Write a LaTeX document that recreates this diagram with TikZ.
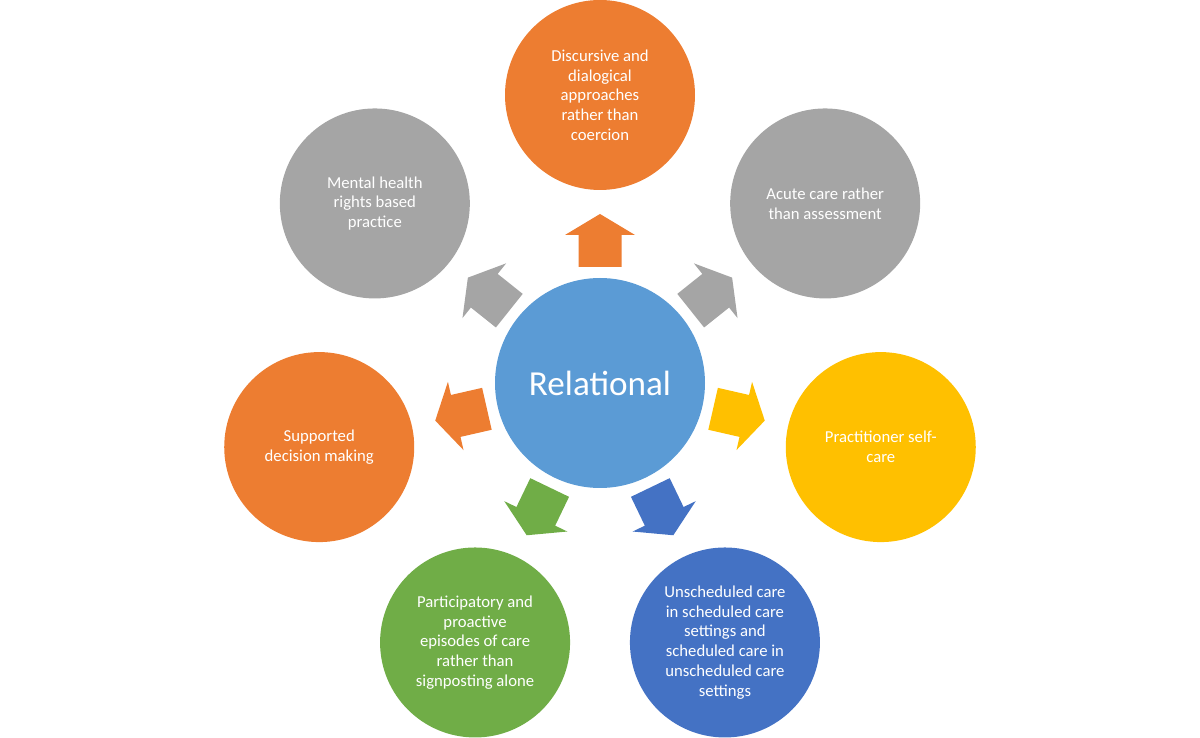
\documentclass[tikz,border=0pt]{standalone}
\usepackage{fontspec}
\setmainfont{Carlito}
\definecolor{accOrange}{HTML}{ED7D31}
\definecolor{accGray}{HTML}{A5A5A5}
\definecolor{accYellow}{HTML}{FFC000}
\definecolor{accBlue}{HTML}{5B9BD5}
\definecolor{accDarkBlue}{HTML}{4472C4}
\definecolor{accGreen}{HTML}{70AD47}
\tikzset{
  bubble/.style={circle,minimum size=3.8cm,inner sep=0pt,text=white,align=center,
    font=\fontsize{9.5}{11.2}\selectfont},
  hub/.style={circle,minimum size=4.2cm,fill=accBlue,text=white,
    font=\fontsize{20}{24}\selectfont}
}
\begin{document}
\begin{tikzpicture}
            \useasboundingbox (-12,7.66) rectangle (12,-7.1);

            \node [hub] (relational) at (0,0) {Relational};

            % heptagon, radius 5.76, starting at the top
            \node [bubble,fill=accOrange]   (dialogue)  at (90:5.76)      {Discursive and\\dialogical\\approaches\\rather than\\coercion};
            \node [bubble,fill=accGray]     (acute)     at (38.57:5.76)   {Acute care rather\\than assessment};
            \node [bubble,fill=accYellow]   (selfcare)  at (-12.86:5.76)  {Practitioner self-\\care};
            \node [bubble,fill=accDarkBlue] (settings)  at (-64.29:5.76)  {Unscheduled care\\in scheduled care\\settings and\\scheduled care in\\unscheduled care\\settings};
            \node [bubble,fill=accGreen]    (episodes)  at (-115.71:5.76) {Participatory and\\proactive\\episodes of care\\rather than\\signposting alone};
            \node [bubble,fill=accOrange]   (decision)  at (-167.14:5.76) {Supported\\decision making};
            \node [bubble,fill=accGray]     (rights)    at (141.43:5.76)  {Mental health\\rights based\\practice};

            % block arrows from the hub outwards
            \foreach \a/\c in {90/accOrange,38.57/accGray,-12.86/accYellow,-64.29/accDarkBlue,
                               -115.71/accGreen,-167.14/accOrange,141.43/accGray}
                {\fill [\c,rotate=\a] (2.32,-0.43) -- (2.96,-0.43) -- (2.96,-0.70) --
                                      (3.38,0) --
                                      (2.96,0.70) -- (2.96,0.43) -- (2.32,0.43) -- cycle;}
\end{tikzpicture}
\end{document}
